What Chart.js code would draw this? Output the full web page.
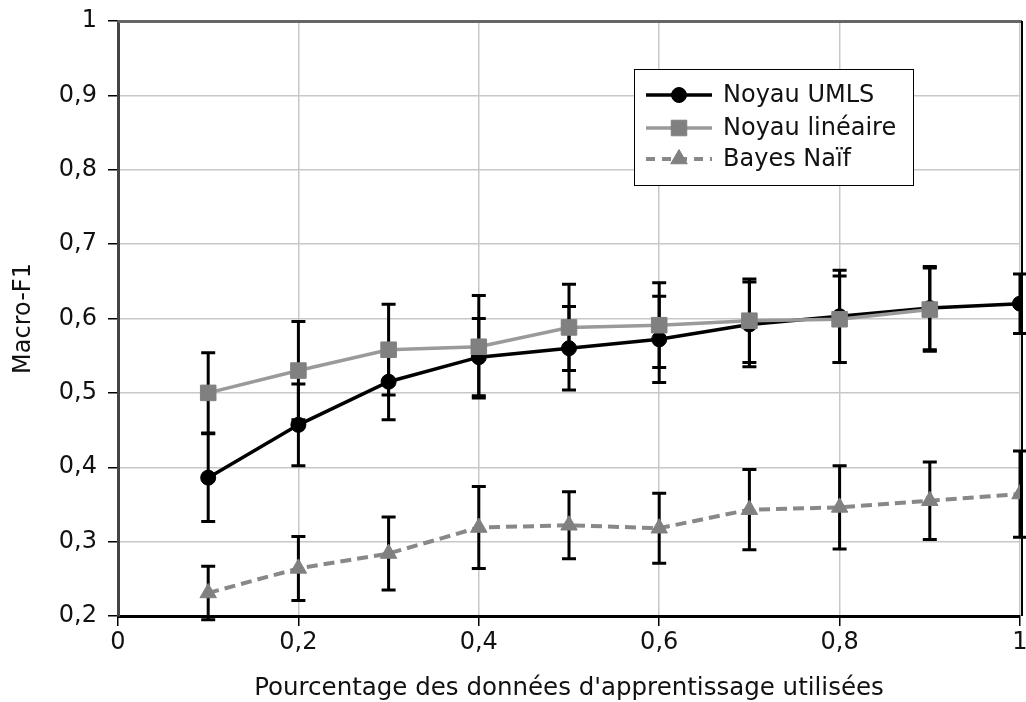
<!DOCTYPE html>
<html>
<head>
<meta charset="utf-8">
<script src="https://cdn.jsdelivr.net/npm/chart.js@4.4.0/dist/chart.umd.min.js"></script>
<style>
  html, body { margin: 0; padding: 0; background: #fff; overflow: hidden; }
  #wrap { width: 1026px; height: 702px; position: relative; overflow: hidden; }
  #c { position: absolute; left: 0; top: 0; }
</style>
</head>
<body>
<div id="wrap"><canvas id="c" width="1032" height="702"></canvas></div>
<script>
// ---- data ----
const xValues = [0.1, 0.2, 0.3, 0.4, 0.5, 0.6, 0.7, 0.8, 0.9, 1.0];
const seriesNames = ['Noyau UMLS', 'Noyau linéaire', 'Bayes Naïf'];

const umlsValues  = [0.386, 0.457, 0.515, 0.548, 0.560, 0.572, 0.592, 0.603, 0.614, 0.620];
const umlsErrors  = [0.059, 0.055, 0.051, 0.052, 0.056, 0.058, 0.057, 0.062, 0.056, 0.040];

const linValues   = [0.500, 0.530, 0.558, 0.562, 0.588, 0.591, 0.597, 0.599, 0.612];
const linErrors   = [0.054, 0.066, 0.061, 0.069, 0.058, 0.057, 0.056, 0.058, 0.056];

const bayesValues = [0.231, 0.264, 0.284, 0.319, 0.322, 0.318, 0.343, 0.346, 0.355, 0.364];
const bayesErrors = [0.036, 0.043, 0.049, 0.055, 0.045, 0.047, 0.054, 0.056, 0.052, 0.058];

const xTickValues = [0, 0.2, 0.4, 0.6, 0.8, 1];
const xTickLabels = ['0', '0,2', '0,4', '0,6', '0,8', '1'];
const yTickValues = [0.2, 0.3, 0.4, 0.5, 0.6, 0.7, 0.8, 0.9, 1];
const yTickLabels = ['0,2', '0,3', '0,4', '0,5', '0,6', '0,7', '0,8', '0,9', '1'];

const xTitle = "Pourcentage des données d'apprentissage utilisées";
const yTitle = 'Macro-F1';

// ---- build ----
const pts = (vals) => vals.map((v, i) => ({ x: xValues[i], y: v }));
const FONT = 'DejaVu Sans';

const errorBars = {
  id: 'errorBars',
  beforeDatasetsDraw(chart) {
    const ctx = chart.ctx, ys = chart.scales.y;
    ctx.save();
    ctx.strokeStyle = '#000';
    ctx.lineWidth = 3;
    ctx.lineCap = 'butt';
    chart.data.datasets.forEach((ds, di) => {
      const meta = chart.getDatasetMeta(di);
      ds.errors.forEach((e, i) => {
        const p = meta.data[i];
        if (!p) return;
        const v = ds.data[i].y;
        const yt = ys.getPixelForValue(v + e), yb = ys.getPixelForValue(v - e);
        ctx.beginPath();
        ctx.moveTo(p.x, yt); ctx.lineTo(p.x, yb);
        ctx.moveTo(p.x - 7, yt); ctx.lineTo(p.x + 7, yt);
        ctx.moveTo(p.x - 7, yb); ctx.lineTo(p.x + 7, yb);
        ctx.stroke();
      });
    });
    ctx.restore();
  }
};

const frame = {
  id: 'frame',
  beforeDatasetsDraw(chart) {
    const { ctx, chartArea: a } = chart;
    ctx.save();
    ctx.strokeStyle = '#666';
    ctx.lineWidth = 3;
    ctx.beginPath(); ctx.moveTo(a.left, a.top + 0.5); ctx.lineTo(a.right + 2, a.top + 0.5); ctx.stroke();
    ctx.strokeStyle = '#000';
    ctx.lineWidth = 2;
    ctx.beginPath(); ctx.moveTo(a.right + 2, a.top); ctx.lineTo(a.right + 2, a.bottom); ctx.stroke();
    ctx.restore();
  }
};

const legendBox = {
  id: 'legendBox',
  afterDraw(chart) {
    const ctx = chart.ctx;
    const bx = 634, by = 69, bw = 279, bh = 116;
    ctx.save();
    ctx.fillStyle = '#fff';
    ctx.fillRect(bx, by, bw, bh);
    ctx.strokeStyle = '#000';
    ctx.lineWidth = 1;
    ctx.strokeRect(bx + 0.5, by + 0.5, bw, bh);
    const rows = [95, 128, 159];
    chart.data.datasets.forEach((ds, i) => {
      const y = rows[i];
      ctx.save();
      ctx.strokeStyle = ds.borderColor;
      ctx.lineWidth = ds.borderWidth;
      ctx.setLineDash(ds.borderDash ? [9, 7] : []);
      ctx.beginPath(); ctx.moveTo(646, y); ctx.lineTo(712, y); ctx.stroke();
      ctx.setLineDash([]);
      ctx.fillStyle = ds.pointBackgroundColor;
      ctx.strokeStyle = ds.pointBorderColor;
      ctx.lineWidth = ds.pointBorderWidth;
      Chart.helpers.drawPoint(ctx, { pointStyle: ds.pointStyle, radius: ds.pointRadius, rotation: 0, borderWidth: ds.pointBorderWidth }, 679, y);
      ctx.restore();
      ctx.fillStyle = '#111';
      ctx.font = '24px "' + FONT + '"';
      ctx.textBaseline = 'middle';
      ctx.textAlign = 'left';
      ctx.fillText(ds.label, 723, y + 1);
    });
    ctx.restore();
  }
};

Chart.defaults.font.family = FONT;
Chart.defaults.color = '#111';

new Chart(document.getElementById('c'), {
  type: 'line',
  data: {
    datasets: [
      {
        label: seriesNames[0], data: pts(umlsValues), errors: umlsErrors,
        borderColor: '#000', borderWidth: 3.5,
        pointStyle: 'circle', pointRadius: 7.5, pointBackgroundColor: '#000',
        pointBorderColor: '#000', pointBorderWidth: 1, order: 1
      },
      {
        label: seriesNames[1], data: pts(linValues), errors: linErrors,
        borderColor: '#9a9a9a', borderWidth: 3.5,
        pointStyle: 'rect', pointRadius: 11, pointBackgroundColor: '#808080',
        pointBorderColor: '#808080', pointBorderWidth: 1, order: 0
      },
      {
        label: seriesNames[2], data: pts(bayesValues), errors: bayesErrors,
        borderColor: '#888888', borderWidth: 4, borderDash: [11, 6],
        pointStyle: 'triangle', pointRadius: 9.5, pointBackgroundColor: '#808080',
        pointBorderColor: '#808080', pointBorderWidth: 1, order: 2
      }
    ]
  },
  options: {
    responsive: false,
    animation: false,
    devicePixelRatio: 1,
    layout: { padding: { top: 21, right: 5, left: 0, bottom: 0 } },
    plugins: { legend: { display: false }, tooltip: { enabled: false } },
    elements: { line: { tension: 0 } },
    scales: {
      x: {
        type: 'linear', min: 0, max: 1,
        afterBuildTicks: s => { s.ticks = xTickValues.map(v => ({ value: v })); },
        afterFit: s => { s.height = 86; },
        ticks: { callback: (v, i) => xTickLabels[i], font: { size: 24 }, padding: 2, maxRotation: 0, autoSkip: false },
        grid: { color: '#c8c8c8', lineWidth: 1.5, tickColor: '#000', tickLength: 10, drawTicks: true },
        border: { display: true, color: '#000', width: 3 },
        title: { display: true, text: xTitle, font: { size: 24.5, lineHeight: 1 }, padding: { top: 0, bottom: 1 }, color: '#111' }
      },
      y: {
        type: 'linear', min: 0.2, max: 1,
        afterBuildTicks: s => { s.ticks = yTickValues.map(v => ({ value: v })); },
        afterFit: s => { s.width = 118; s.paddingTop = 0; s.paddingBottom = 0; },
        ticks: { callback: (v, i) => yTickLabels[i], font: { size: 24 }, padding: 11, autoSkip: false },
        grid: { color: '#c8c8c8', lineWidth: 1.5, tickColor: '#000', tickLength: 10, drawTicks: true },
        border: { display: true, color: '#444', width: 3 },
        title: { display: true, text: yTitle, font: { size: 24 }, padding: { top: 9, bottom: 0 }, color: '#111' }
      }
    }
  },
  plugins: [frame, errorBars, legendBox]
});
</script>
</body>
</html>
